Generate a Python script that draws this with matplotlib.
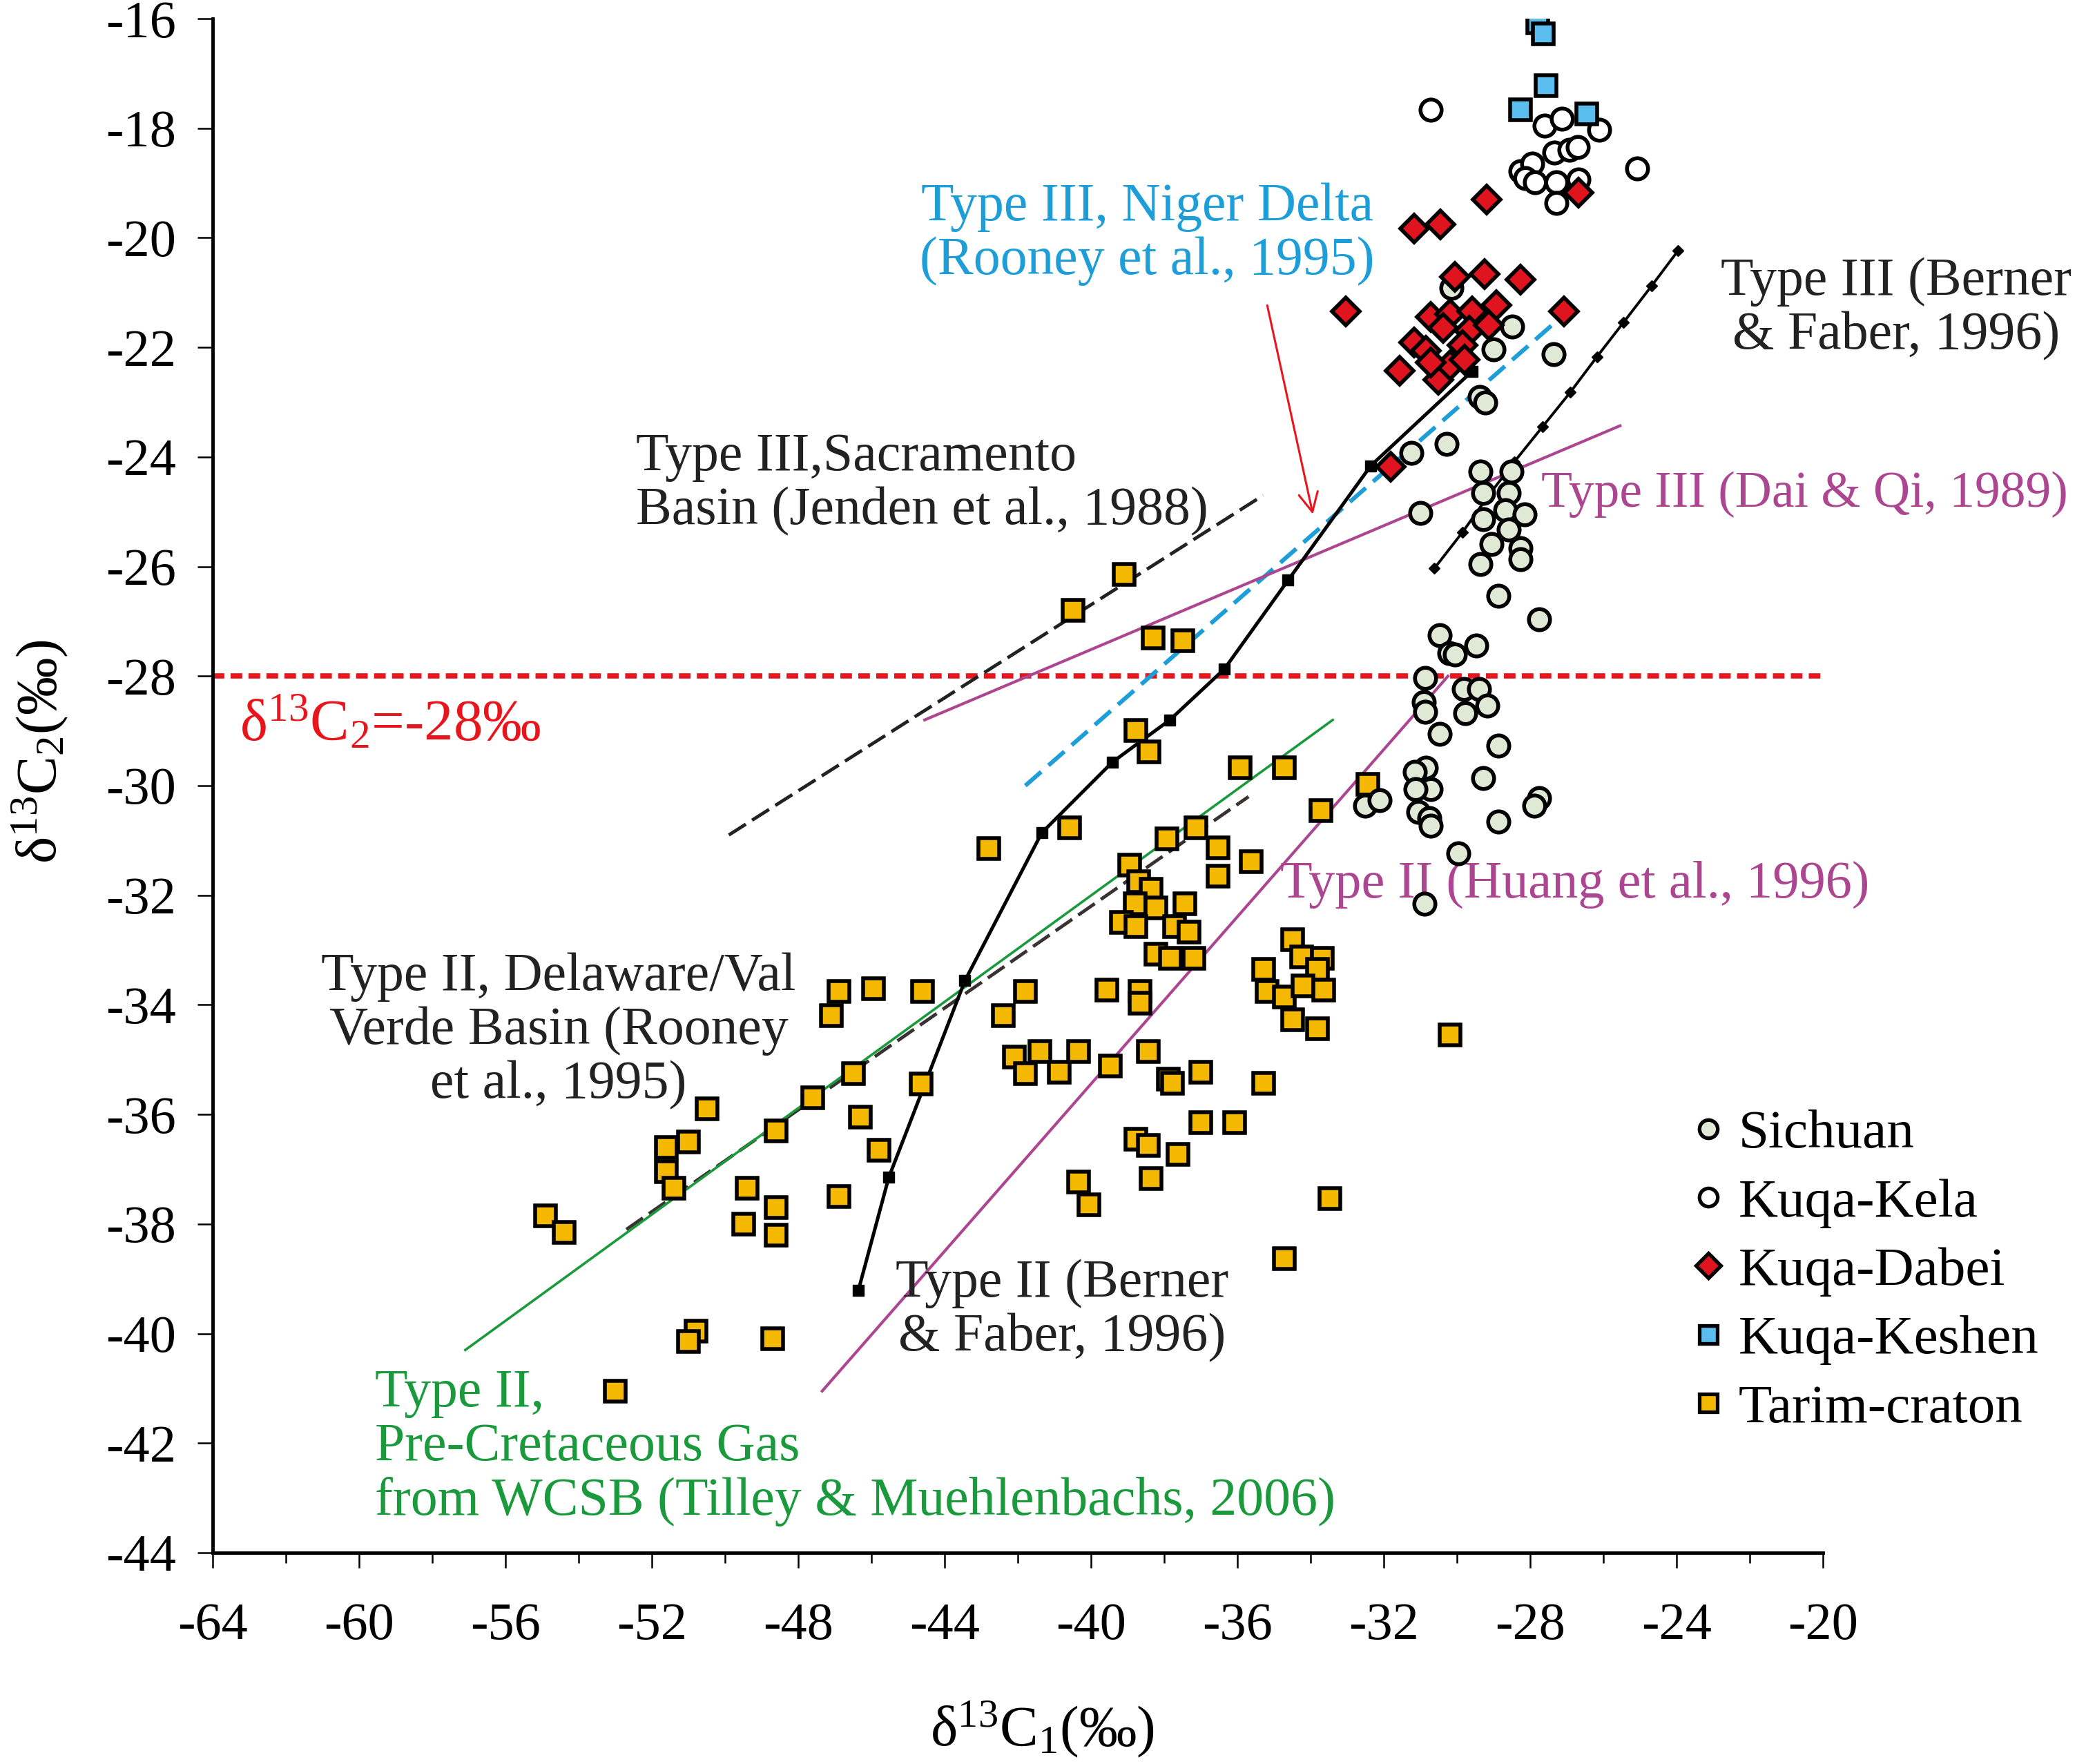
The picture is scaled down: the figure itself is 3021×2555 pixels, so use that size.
import matplotlib
matplotlib.use('Agg')
import matplotlib.pyplot as plt
from matplotlib.lines import Line2D

plt.rcParams['font.family'] = ['Liberation Serif', 'DejaVu Serif']
plt.rcParams['mathtext.fontset'] = 'custom'
plt.rcParams['mathtext.rm'] = 'Liberation Serif'
plt.rcParams['mathtext.it'] = 'Liberation Serif:italic'
plt.rcParams['mathtext.bf'] = 'Liberation Serif:bold'
plt.rcParams['axes.unicode_minus'] = False

# --- data (d13C1, d13C2 in permil) ---
tarim_x = [-54.9, -54.4, -53.0, -50.8, -51.0, -48.7, -50.5, -51.0, -51.6, -51.6, -51.4,
           -49.4, -49.5, -48.6, -48.6, -48.6, -47.6, -46.9, -47.1, -46.9, -45.95, -46.5,
           -46.3, -45.8, -44.6, -44.65, -42.8, -42.4, -41.8, -42.1, -41.8, -41.4,
           -40.88, -40.34, -39.47, -38.43, -40.59, -38.77, -38.42, -37.93, -37.13, -36.53,
           -36.53, -35.63, -38.94, -38.70, -38.37, -38.80, -38.23, -39.17, -38.77, -37.44,
           -37.73, -37.33, -38.23, -37.83, -37.20, -39.57, -38.67, -38.67, -35.29, -34.49,
           -34.25, -33.68, -33.82, -35.19, -34.72, -34.22, -33.65, -34.49, -33.82, -33.72,
           -32.44, -37.90, -37.77, -37.00, -35.29, -37.00, -36.09, -38.77, -38.43, -37.63,
           -38.37, -40.34, -40.07, -33.48, -34.72, -40.5, -39.1, -38.3, -37.5, -35.93,
           -34.72, -30.2]
tarim_y = [-37.85, -38.15, -41.05, -39.95, -40.15, -40.1, -35.9, -36.5, -36.6, -37.05, -37.35,
           -37.35, -38.0, -37.7, -38.2, -36.3, -35.7, -37.5, -34.2, -33.75, -33.7, -35.25,
           -36.05, -36.65, -33.75, -35.45, -31.15, -34.2, -33.75, -34.95, -35.25, -34.85,
           -35.23, -34.85, -35.12, -34.85, -30.77, -28.99, -29.38, -30.97, -30.77, -31.14,
           -31.65, -31.38, -31.45, -31.75, -31.89, -32.16, -32.23, -32.50, -32.57, -32.16,
           -32.57, -32.67, -33.08, -33.15, -33.15, -33.73, -33.76, -33.97, -33.35, -32.81,
           -33.12, -33.15, -33.35, -33.76, -33.86, -33.66, -33.73, -34.27, -34.44, -30.46,
           -29.98, -35.36, -35.43, -35.23, -35.43, -36.15, -36.15, -36.45, -36.56, -36.73,
           -37.17, -37.24, -37.65, -37.54, -38.63, -26.8, -26.15, -27.3, -27.35, -29.67,
           -29.67, -34.55]

sichuan_x = [-30.16, -28.50, -29.0, -27.37, -29.39, -29.23, -31.26, -30.28, -31.01, -29.37,
             -28.52, -29.28, -28.59, -29.28, -28.68, -28.15, -28.59, -29.06, -28.27, -29.37,
             -28.27, -28.87, -27.77, -30.47, -30.22, -30.06, -29.47, -30.88, -29.81, -29.41,
             -30.91, -30.88, -30.47, -29.78, -29.18, -28.87, -29.28, -30.85, -31.16, -30.72,
             -31.13, -31.07, -30.76, -30.72, -32.52, -32.11, -28.87, -27.77, -27.89, -29.97,
             -30.9]
sichuan_y = [-20.92, -21.62, -22.04, -22.12, -22.90, -23.00, -23.92, -23.76, -25.02, -24.26,
             -24.26, -24.66, -24.66, -25.14, -24.97, -25.05, -25.33, -25.59, -25.67, -25.95,
             -25.87, -26.54, -26.96, -27.25, -27.58, -27.61, -27.44, -28.03, -28.23, -28.23,
             -28.48, -28.65, -29.05, -28.68, -28.54, -29.27, -29.86, -29.67, -29.75, -30.06,
             -30.06, -30.48, -30.59, -30.73, -30.37, -30.26, -30.65, -30.23, -30.37, -31.24,
             -32.15]

kela_x = [-30.72, -27.61, -27.14, -26.12, -27.34, -26.94, -26.71, -28.27, -27.94, -28.14,
          -27.87, -27.28, -26.68, -27.28, -25.09]
kela_y = [-17.66, -17.95, -17.82, -18.03, -18.45, -18.39, -18.34, -18.78, -18.65, -18.91,
          -18.99, -18.99, -18.94, -19.36, -18.73]

dabei_x = [-29.20, -31.18, -30.45, -33.04, -30.06, -29.26, -28.27, -27.08, -26.68, -30.72,
           -30.19, -29.59, -28.93, -29.66, -29.13, -30.39, -31.18, -30.85, -29.86, -31.58,
           -30.52, -30.19, -29.79, -30.72, -31.82]
dabei_y = [-19.30, -19.83, -19.75, -21.34, -20.71, -20.66, -20.76, -21.34, -19.17, -21.44,
           -21.39, -21.34, -21.23, -21.70, -21.60, -21.65, -21.91, -22.06, -21.96, -22.43,
           -22.59, -22.33, -22.22, -22.27, -24.18]

keshen_x = [-27.80, -27.64, -27.57, -28.27, -26.45]
keshen_y = [-16.08, -16.28, -17.22, -17.66, -17.74]

# reference trend lines
berner2_x = [-46.36, -45.53, -43.45, -41.35, -39.42, -37.85, -36.36, -34.62, -32.36, -29.6]
berner2_y = [-39.21, -37.15, -33.56, -30.86, -29.57, -28.80, -27.87, -26.25, -24.16, -22.44]
berner3_x = [-30.62, -29.85, -29.16, -28.44, -27.67, -26.91, -26.18, -25.45, -24.69, -23.96]
berner3_y = [-26.03, -25.37, -24.72, -24.09, -23.45, -22.82, -22.17, -21.54, -20.88, -20.23]
sacramento_x, sacramento_y = [-49.9, -35.3], [-30.9, -24.7]
niger_x, niger_y = [-41.8, -27.25], [-30.0, -21.5]
daiqi_x, daiqi_y = [-44.55, -25.55], [-28.8, -23.43]
huang_x, huang_y = [-47.35, -30.25], [-41.05, -28.0]
delaware_x, delaware_y = [-52.7, -35.7], [-38.1, -30.2]
wcsb_x, wcsb_y = [-57.1, -33.4], [-40.3, -28.8]
limit_y = -28

purple = '#ad4690'
cyan = '#1e9ed8'
green = '#1a9a3c'
red = '#e8161c'
ink = '#222222'

fig = plt.figure(figsize=(30.21, 25.55), dpi=100)
ax = fig.add_axes([0.102, 0.1198, 0.772, 0.8696])
ax.set_xlim(-64, -20)
ax.set_ylim(-44, -16)

# lines
ax.plot([-64, -20], [limit_y, limit_y], color=red, lw=5.5, dashes=(2.2, 1.2), zorder=2)
ax.plot(sacramento_x, sacramento_y, color=ink, lw=3.5, dashes=(6, 2.2), zorder=2)
ax.plot(delaware_x, delaware_y, color='#3a3232', lw=3.5, dashes=(6, 2.2), zorder=2)
ax.plot(wcsb_x, wcsb_y, color=green, lw=2.6, zorder=2)
ax.plot(niger_x, niger_y, color=cyan, lw=4.4, dashes=(5, 2.3), zorder=2)
ax.plot(daiqi_x, daiqi_y, color=purple, lw=3.0, zorder=2)
ax.plot(huang_x, huang_y, color=purple, lw=3.0, zorder=2)
ax.plot(berner3_x, berner3_y, color='black', lw=2.8, marker='D', markersize=8, zorder=2)
ax.plot(berner2_x, berner2_y, color='black', lw=3.6, marker='s', markersize=11, zorder=2)
ax.annotate('', xy=(-33.93, -25.08), xytext=(-35.2, -21.2),
            arrowprops=dict(arrowstyle='->', color=red, lw=2.2, mutation_scale=50))

# points
ax.plot(tarim_x, tarim_y, 's', ms=22, mfc='#f5b800', mec='black', mew=4.0, zorder=3)
ax.plot(sichuan_x, sichuan_y, 'o', ms=22, mfc='#dfe9d6', mec='black', mew=4.0, zorder=4)
ax.plot(kela_x, kela_y, 'o', ms=22, mfc='white', mec='black', mew=4.0, zorder=4)
ax.plot(keshen_x, keshen_y, 's', ms=22, mfc='#5bbcee', mec='black', mew=4.0, zorder=5)
ax.plot(dabei_x, dabei_y, 'D', ms=20, mfc='#e0141e', mec='black', mew=4.0, zorder=5)

# annotations
fs = 56
ls = 1.12
ax.text(-38.47, -19.93, 'Type III, Niger Delta\n(Rooney et al., 1995)', color=cyan,
        fontsize=fs, ha='center', va='center', linespacing=ls)
ax.text(-18.0, -21.3, 'Type III (Berner\n& Faber, 1996)', color=ink,
        fontsize=fs, ha='center', va='center', linespacing=ls)
ax.text(-52.44, -24.5, 'Type III,Sacramento\nBasin (Jenden et al., 1988)', color=ink,
        fontsize=fs, ha='left', va='center', linespacing=ls)
ax.text(-27.7, -24.69, 'Type III (Dai & Qi, 1989)', color=purple,
        fontsize=53, ha='left', va='center')
ax.text(-34.84, -31.81, 'Type II (Huang et al., 1996)', color=purple,
        fontsize=55, ha='left', va='center')
ax.text(-54.55, -34.48, 'Type II, Delaware/Val\nVerde Basin (Rooney\net al., 1995)',
        color=ink, fontsize=fs, ha='center', va='center', linespacing=ls)
ax.text(-40.8, -39.58, 'Type II (Berner\n& Faber, 1996)', color=ink,
        fontsize=fs, ha='center', va='center', linespacing=ls)
ax.text(-59.56, -42.08, 'Type II,\nPre-Cretaceous Gas\nfrom WCSB (Tilley & Muehlenbachs, 2006)',
        color=green, fontsize=fs, ha='left', va='center', linespacing=ls)
ax.text(-63.27, -28.88, 'δ$^{13}$C$_2$=-28‰', color=red, fontsize=61, ha='left', va='center')

# axes styling
for s in ['top', 'right']:
    ax.spines[s].set_visible(False)
ax.spines['left'].set_linewidth(3.5)
ax.spines['bottom'].set_linewidth(3.5)
ax.set_xticks(range(-64, -19, 4))
ax.set_xticks(range(-62, -19, 4), minor=True)
ax.set_yticks(range(-44, -15, 2))
ax.tick_params(axis='both', which='major', direction='out', length=16, width=1.8,
               labelsize=55)
ax.tick_params(axis='x', which='minor', direction='out', length=11, width=1.8)
ax.tick_params(axis='x', which='major', pad=36)
ax.tick_params(axis='y', which='major', pad=22)

fig.text(0.4995, 0.0196, 'δ$^{13}$C$_1$(‰)', fontsize=60, ha='center', va='center')
fig.text(0.019, 0.574, 'δ$^{13}$C$_2$(‰)', fontsize=60, ha='center', va='center',
         rotation=90)

# legend
handles = [
    Line2D([], [], ls='none', marker='o', ms=19, mfc='#dfe9d6', mec='black', mew=3.8),
    Line2D([], [], ls='none', marker='o', ms=19, mfc='white', mec='black', mew=3.8),
    Line2D([], [], ls='none', marker='D', ms=18, mfc='#e0141e', mec='black', mew=3.8),
    Line2D([], [], ls='none', marker='s', ms=19, mfc='#5bbcee', mec='black', mew=3.8),
    Line2D([], [], ls='none', marker='s', ms=19, mfc='#f5b800', mec='black', mew=3.8),
]
labels = ['Sichuan', 'Kuqa-Kela', 'Kuqa-Dabei', 'Kuqa-Keshen', 'Tarim-craton']
ax.legend(handles, labels, loc='upper left', bbox_to_anchor=(0.917, 0.289),
          frameon=False, fontsize=57, handlelength=0.7, handletextpad=0.2,
          labelspacing=0.34, borderpad=0, borderaxespad=0)

fig.savefig('out.png', dpi=100)
